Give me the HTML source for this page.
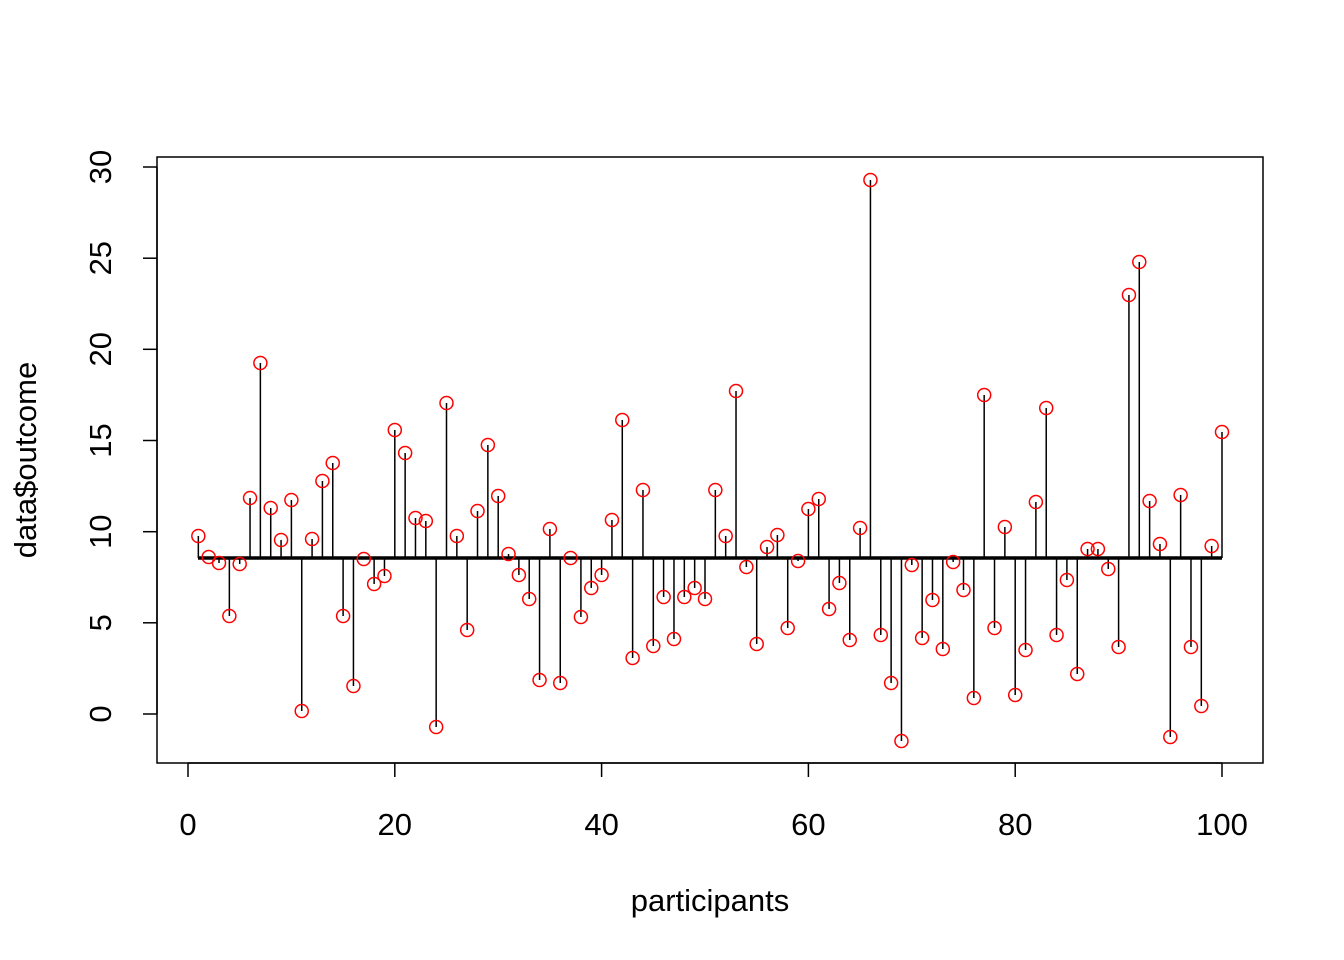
<!DOCTYPE html>
<html><head><meta charset="utf-8"><style>
html,body{margin:0;padding:0;background:#fff;}
svg{display:block;font-family:"Liberation Sans",Arial,sans-serif;}
</style></head><body>
<svg id="s" width="1344" height="960" viewBox="0 0 1344 960" xmlns="http://www.w3.org/2000/svg">
<rect x="0" y="0" width="1344" height="960" fill="#fff"/>
<rect x="157" y="157" width="1106" height="606" fill="none" stroke="#000" stroke-width="1.5"/>
<g id="stems" stroke="#000" stroke-width="1.5"></g>
<line x1="198" y1="558" x2="1222" y2="558" stroke="#000" stroke-width="3.5"/>
<g id="pts" fill="none" stroke="#ff0000" stroke-width="1.5"></g>
<g stroke="#000" stroke-width="1.5">
<line x1="188" y1="763" x2="1222" y2="763"/>
<line x1="188" y1="763" x2="188" y2="777"/>
<line x1="394.8" y1="763" x2="394.8" y2="777"/>
<line x1="601.6" y1="763" x2="601.6" y2="777"/>
<line x1="808.4" y1="763" x2="808.4" y2="777"/>
<line x1="1015.2" y1="763" x2="1015.2" y2="777"/>
<line x1="1222" y1="763" x2="1222" y2="777"/>
<line x1="157" y1="714" x2="157" y2="167"/>
<line x1="143" y1="714" x2="157" y2="714"/>
<line x1="143" y1="622.8" x2="157" y2="622.8"/>
<line x1="143" y1="531.7" x2="157" y2="531.7"/>
<line x1="143" y1="440.5" x2="157" y2="440.5"/>
<line x1="143" y1="349.3" x2="157" y2="349.3"/>
<line x1="143" y1="258.2" x2="157" y2="258.2"/>
<line x1="143" y1="167" x2="157" y2="167"/>
</g>
<g font-size="31" fill="#000" text-anchor="middle">
<text x="188" y="835">0</text>
<text x="394.8" y="835">20</text>
<text x="601.6" y="835">40</text>
<text x="808.4" y="835">60</text>
<text x="1015.2" y="835">80</text>
<text x="1222" y="835">100</text>
<text transform="translate(111,714) rotate(-90)">0</text>
<text transform="translate(111,622.8) rotate(-90)">5</text>
<text transform="translate(111,531.7) rotate(-90)">10</text>
<text transform="translate(111,440.5) rotate(-90)">15</text>
<text transform="translate(111,349.3) rotate(-90)">20</text>
<text transform="translate(111,258.2) rotate(-90)">25</text>
<text transform="translate(111,167) rotate(-90)">30</text>
<text x="710" y="911">participants</text>
<text transform="translate(36,460) rotate(-90)">data$outcome</text>
</g>
</svg>
<script>
var ys=[536,557,563,616,564,498,363,508,540,500,711,539,481,463,616,686,559,584,576,430,453,518,521,727,403,536,630,511,445,496,554,575,599,680,529,683,558,617,588,575,520,420,658,490,646,597,639,597,588,599,490,536,391,567,644,547,535,628,561,509,499,609,583,640,528,180,635,683,741,565,638,600,649,562,590,698,395,628,527,695,650,502,408,635,580,674,549,549,569,647,295,262,501,544,737,495,647,706,546,432];
var NS="http://www.w3.org/2000/svg",st=document.getElementById('stems'),pt=document.getElementById('pts');
for(var i=0;i<100;i++){var x=188+(i+1)*10.34,y=ys[i];
var l=document.createElementNS(NS,'line');l.setAttribute('x1',x);l.setAttribute('x2',x);l.setAttribute('y1',558);l.setAttribute('y2',y);st.appendChild(l);
var c=document.createElementNS(NS,'circle');c.setAttribute('cx',x);c.setAttribute('cy',y);c.setAttribute('r',6.5);pt.appendChild(c);}
</script>
</body></html>
